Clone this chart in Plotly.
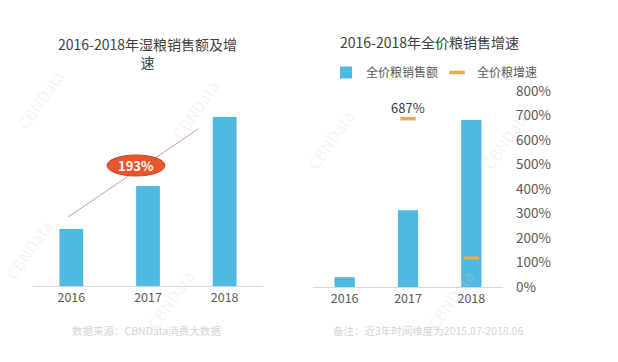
import plotly.graph_objects as go

W, H = 618, 362

years = ["2016", "2017", "2018"]
wet_sales = [57, 100, 169]          # relative sales (no axis shown)
wet_growth_label = "193%"
full_sales = [40, 313, 682]         # relative sales drawn against the % axis
full_growth = [None, 687, 118]      # %
full_growth_labeled = "2017"
pct_ticks = [0, 100, 200, 300, 400, 500, 600, 700, 800]
pct_labels = [f"{v}%" for v in pct_ticks]

BLUE = "#50B9DF"
ORANGE = "#EBA75A"
RED = "#E8572C"
GRAY = "#5A5A5A"
FONT = "Noto Sans CJK SC"

def px_x(x):
    return x / W

def px_y(y):
    return 1 - y / H

fig = go.Figure()

fig.add_trace(go.Bar(x=years, y=wet_sales, marker_color=BLUE, width=0.31,
                     xaxis="x", yaxis="y", showlegend=False, hoverinfo="skip"))

fig.add_trace(go.Bar(x=years, y=full_sales, marker_color=BLUE, width=0.32,
                     xaxis="x2", yaxis="y2", name="全价粮销售额"))
fig.add_trace(go.Scatter(x=years, y=full_growth, mode="markers",
                         marker=dict(symbol="line-ew", size=11,
                                     line=dict(color=ORANGE, width=3.5)),
                         xaxis="x2", yaxis="y2", name="全价粮增速"))

fig.update_layout(
    template="none",
    width=W, height=H, margin=dict(l=0, r=0, t=0, b=0, pad=0, autoexpand=False),
    paper_bgcolor="white", plot_bgcolor="white",
    font=dict(family=FONT, color=GRAY, size=13),
    xaxis=dict(domain=[px_x(33), px_x(263)], type="category", range=[-0.5, 2.5],
               showline=True, linecolor="#D9D9D9", linewidth=1, ticks="",
               automargin=False, showgrid=False, tickfont=dict(size=12.5, color=GRAY)),
    yaxis=dict(domain=[px_y(286), px_y(100)], range=[0, 186], visible=False,
               automargin=False, showgrid=False, zeroline=False),
    xaxis2=dict(domain=[px_x(313), px_x(503)], type="category", range=[-0.5, 2.5],
                anchor="y2", showline=True, linecolor="#D9D9D9", linewidth=1,
                automargin=False, ticks="", showgrid=False,
                tickfont=dict(size=12.5, color=GRAY)),
    yaxis2=dict(domain=[px_y(287), px_y(91)], range=[0, 800], anchor="x2",
                side="right", tickmode="array", tickvals=pct_ticks, ticktext=pct_labels,
                automargin=False, showgrid=False, zeroline=False, showline=False, ticks="",
                ticklabelstandoff=12,
                tickfont=dict(size=13.5, color=GRAY)),
    legend=dict(orientation="h", x=px_x(326), y=px_y(58), xanchor="left",
                yanchor="top", font=dict(size=12, color=GRAY),
                itemwidth=30, entrywidth=66, entrywidthmode="pixels",
                tracegroupgap=0, bgcolor="rgba(0,0,0,0)"),
    bargap=0.5,
)

# trend line and growth bubble on left chart
fig.add_shape(type="line", xref="x", yref="y", x0=-0.043, y0=69, x1=1.652, y1=157,
              line=dict(color="#D49F90", width=1))
fig.add_shape(type="circle", xref="x", yref="y", x0=0.465, x1=1.222, y0=110, y1=131,
              fillcolor=RED, line=dict(color="#C9461F", width=1))
fig.add_annotation(x=0.843, y=120.5, xref="x", yref="y", text="<b>" + wet_growth_label + "</b>",
                   showarrow=False, font=dict(size=13, color="white", family=FONT))

# growth label for 2017 on right chart (category index on x2)
gi = years.index(full_growth_labeled)
fig.add_annotation(x=gi, y=full_growth[gi], xref="x2", yref="y2",
                   text=f"{full_growth[gi]}%", showarrow=False, yshift=11,
                   font=dict(size=13, color="#404040", family=FONT))

# titles
fig.add_annotation(x=px_x(147), y=px_y(32), xref="paper", yref="paper",
                   text="2016-2018年湿粮销售额及增<br>速", showarrow=False,
                   xanchor="center", yanchor="top", align="center",
                   font=dict(size=14, color="#404040", family=FONT))
fig.add_annotation(x=px_x(429), y=px_y(42), xref="paper", yref="paper",
                   text="2016-2018年全价粮销售增速", showarrow=False,
                   xanchor="center", yanchor="middle",
                   font=dict(size=14, color="#404040", family=FONT))

# footers
fig.add_annotation(x=px_x(146), y=px_y(330), xref="paper", yref="paper",
                   text="数据来源：CBNData消费大数据", showarrow=False,
                   xanchor="center", yanchor="middle",
                   font=dict(size=10.5, color="#D4D4D4", family=FONT))
fig.add_annotation(x=px_x(428), y=px_y(330), xref="paper", yref="paper",
                   text="备注：近3年时间维度为2015.07-2018.06", showarrow=False,
                   xanchor="center", yanchor="middle",
                   font=dict(size=10.5, color="#D4D4D4", family=FONT))

# faint watermarks
for wx, wy in [(40, 100), (195, 110), (28, 250), (330, 140), (505, 140), (450, 300), (170, 300)]:
    fig.add_annotation(x=px_x(wx), y=px_y(wy), xref="paper", yref="paper",
                       text="CBNData", showarrow=False, textangle=-55,
                       xanchor="center", yanchor="middle",
                       font=dict(size=16, color="rgba(215,215,215,0.28)", family=FONT))

fig.write_html("out.html", config={"displayModeBar": False},
               post_script="document.body.style.margin='0';document.body.style.padding='0';")
